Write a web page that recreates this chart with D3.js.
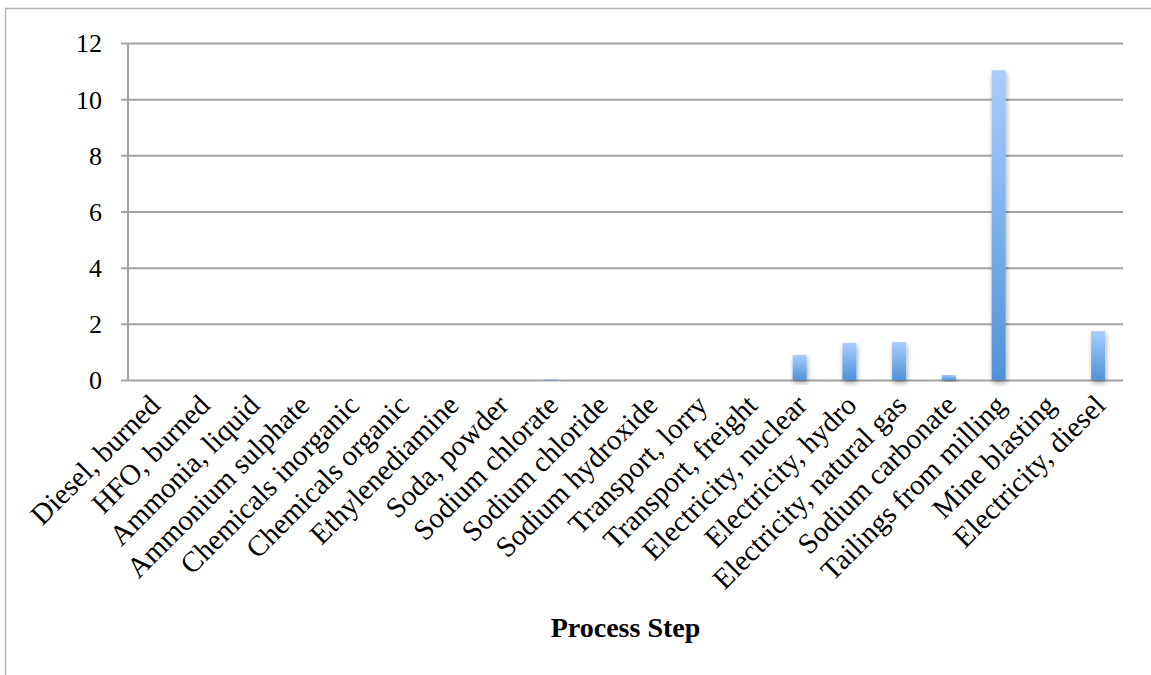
<!DOCTYPE html>
<html>
<head>
<meta charset="utf-8">
<script src="https://cdn.jsdelivr.net/npm/d3@7/dist/d3.min.js"></script>
<style>
  html, body { margin: 0; padding: 0; background: #fff; }
  svg { display: block; }
  text { font-family: "Liberation Serif", "Times New Roman", serif; fill: #000; }
</style>
</head>
<body>
<svg id="chart" width="1151" height="675"></svg>
<script>
// Process steps along the x axis
const categories = [
  "Diesel, burned", "HFO, burned", "Ammonia, liquid", "Ammonium sulphate",
  "Chemicals inorganic", "Chemicals organic", "Ethylenediamine", "Soda, powder",
  "Sodium chlorate", "Sodium chloride", "Sodium hydroxide", "Transport, lorry",
  "Transport, freight", "Electricity, nuclear", "Electricity, hydro",
  "Electricity, natural gas", "Sodium carbonate", "Tailings from milling",
  "Mine blasting", "Electricity, diesel"
];

// Contribution of each step
const values = [
  0, 0, 0, 0, 0, 0, 0, 0, 0.03, 0, 0, 0, 0,
  0.89, 1.32, 1.35, 0.18, 11.03, 0, 1.74
];

const yTicks = [0, 2, 4, 6, 8, 10, 12];
const xTitle = "Process Step";

const svg = d3.select("#chart");
const W = 1151, H = 675;
const m = { left: 128, right: 28, top: 43, bottom: 295 };
const innerW = W - m.left - m.right;
const innerH = H - m.top - m.bottom;

// Outer frame
svg.append("path")
  .attr("d", `M5.5,${H + 5} V8.5 H${W + 5}`)
  .attr("fill", "none")
  .attr("stroke", "#b3b3b3")
  .attr("stroke-width", 1.5);

const defs = svg.append("defs");
const grad = defs.append("linearGradient")
  .attr("id", "barGrad")
  .attr("x1", 0).attr("y1", 0).attr("x2", 0).attr("y2", 1);
grad.append("stop").attr("offset", "0%").attr("stop-color", "#aacdfd");
grad.append("stop").attr("offset", "100%").attr("stop-color", "#4e93d9");

const shadow = defs.append("filter")
  .attr("id", "barShadow")
  .attr("x", "-60%").attr("y", "-10%").attr("width", "220%").attr("height", "130%");
shadow.append("feGaussianBlur").attr("in", "SourceAlpha").attr("stdDeviation", 2.5).attr("result", "b");
shadow.append("feOffset").attr("in", "b").attr("dx", 1).attr("dy", 3).attr("result", "o");
shadow.append("feComponentTransfer").attr("in", "o").attr("result", "s")
  .append("feFuncA").attr("type", "linear").attr("slope", 0.35);
const merge = shadow.append("feMerge");
merge.append("feMergeNode").attr("in", "s");
merge.append("feMergeNode").attr("in", "SourceGraphic");

const g = svg.append("g").attr("transform", `translate(${m.left},${m.top})`);

const x = d3.scaleBand().domain(categories).range([0, innerW]).paddingInner(0).paddingOuter(0);
const y = d3.scaleLinear().domain([0, 12]).range([innerH, 0]);

// Horizontal gridlines with small tick stubs on the left
const yAxis = d3.axisLeft(y).tickValues(yTicks).tickSize(-innerW).tickPadding(26)
  .tickFormat(d3.format("d"));
const yg = g.append("g").call(yAxis);
yg.select(".domain").remove();
yg.selectAll(".tick line")
  .attr("x1", -7)
  .attr("stroke", "#a3a3a3")
  .attr("stroke-width", 2);
yg.selectAll(".tick text")
  .style("font-size", "26px")
  .attr("dy", "0.34em");

// Vertical axis line
g.append("line")
  .attr("x1", 0).attr("x2", 0).attr("y1", 0).attr("y2", innerH)
  .attr("stroke", "#a3a3a3").attr("stroke-width", 2);

// Bars
const barW = 14;
g.append("g").selectAll("rect")
  .data(categories.map((c, i) => ({ c, v: values[i] })).filter(d => d.v > 0))
  .join("rect")
  .attr("x", d => x(d.c) + x.bandwidth() / 2 - barW / 2)
  .attr("width", barW)
  .attr("y", d => y(d.v))
  .attr("height", d => Math.max(1, innerH - y(d.v)))
  .attr("fill", "url(#barGrad)")
  .attr("filter", "url(#barShadow)");

// Category labels, rotated
g.append("g").selectAll("text")
  .data(categories)
  .join("text")
  .attr("transform", d => `translate(${x(d) + x.bandwidth() / 2 + 9},${innerH + 27}) rotate(-45)`)
  .attr("text-anchor", "end")
  .style("font-size", "29px")
  .text(d => d);

// Axis title
g.append("text")
  .attr("x", innerW / 2)
  .attr("y", 594)
  .attr("text-anchor", "middle")
  .style("font-size", "28px")
  .style("font-weight", "bold")
  .text(xTitle);
</script>
</body>
</html>
